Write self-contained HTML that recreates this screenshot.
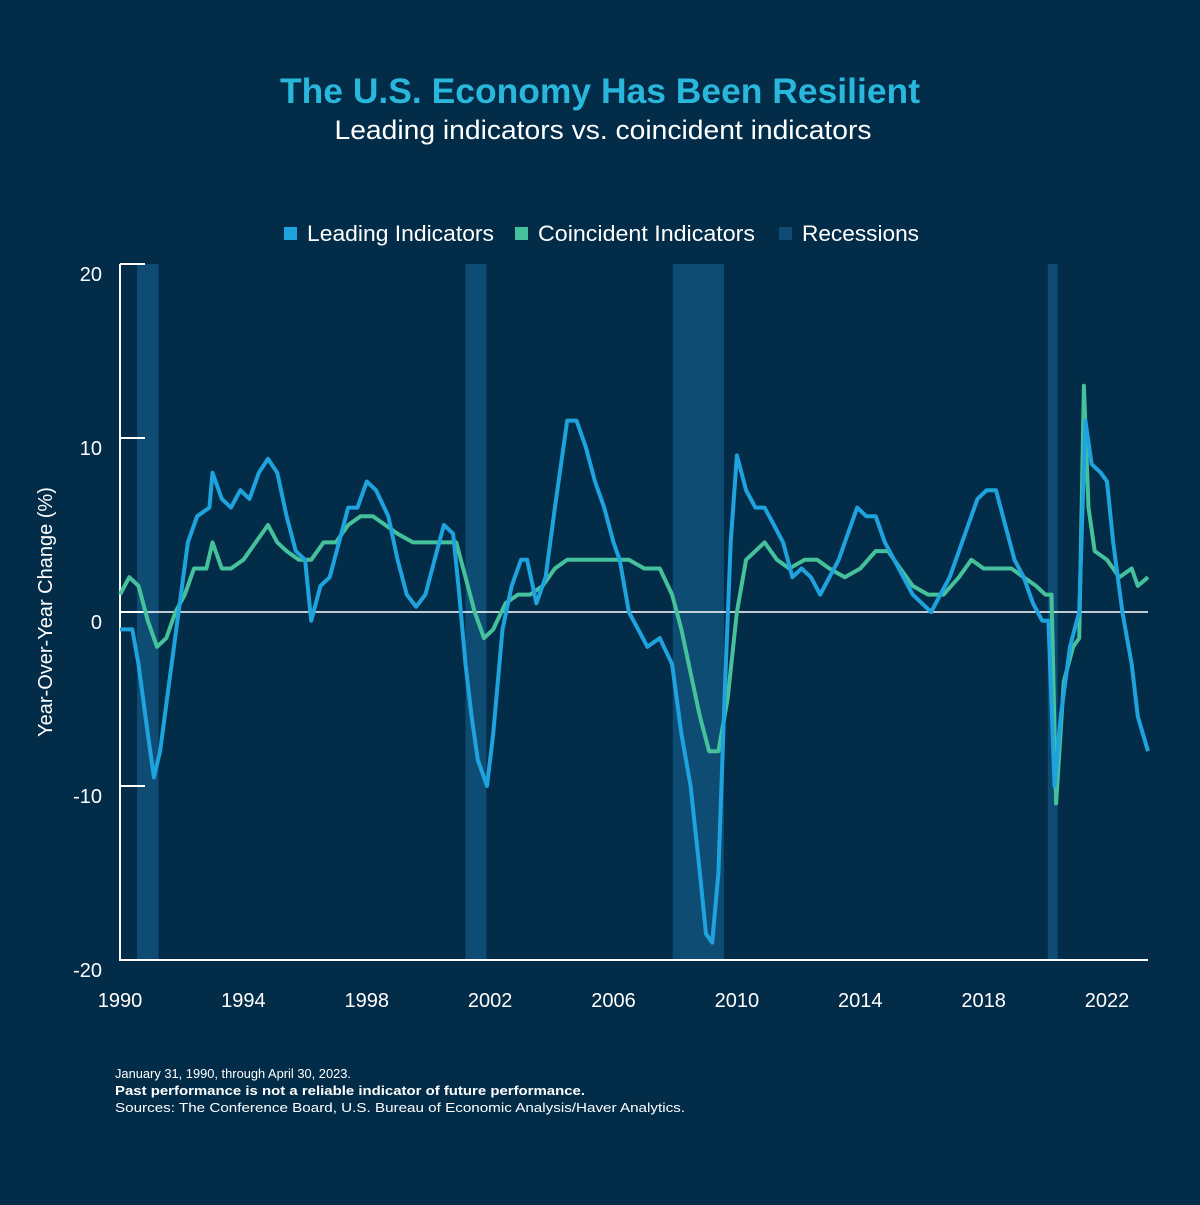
<!DOCTYPE html>
<html><head><meta charset="utf-8"><style>
html,body{margin:0;padding:0;background:#022c48;}
body{width:1200px;height:1200px;overflow:hidden;font-family:"Liberation Sans",Arial,sans-serif;}
</style></head><body>
<svg id="chart" width="1200" height="1200" xmlns="http://www.w3.org/2000/svg" style="font-family:'Liberation Sans',Arial,sans-serif">
<rect width="1200" height="1200" fill="#022c48"/>
<text x="600" y="103" text-anchor="middle" font-size="35" font-weight="bold" fill="#2ab7dc" textLength="640" lengthAdjust="spacingAndGlyphs">The U.S. Economy Has Been Resilient</text>
<text x="603" y="139" text-anchor="middle" font-size="27" fill="#ffffff" textLength="537" lengthAdjust="spacingAndGlyphs">Leading indicators vs. coincident indicators</text>
<g font-size="22" fill="#fff">
<g><rect x="284" y="227" width="13" height="13" fill="#1fa3de"/><text x="307" y="241" textLength="187" lengthAdjust="spacingAndGlyphs">Leading Indicators</text></g>
<g><rect x="515" y="227" width="13" height="13" fill="#45c29b"/><text x="538" y="241" textLength="217" lengthAdjust="spacingAndGlyphs">Coincident Indicators</text></g>
<g><rect x="779" y="227" width="13" height="13" fill="#0e4c74"/><text x="802" y="241" textLength="117" lengthAdjust="spacingAndGlyphs">Recessions</text></g>
</g>
<g id="recessions"></g>
<g id="axes"></g>
<g id="series"></g>
<text transform="translate(52,612) rotate(-90)" text-anchor="middle" font-size="20" fill="#fff">Year-Over-Year Change (%)</text>
<g font-size="13" fill="#fff">
<text x="115" y="1078" textLength="236" lengthAdjust="spacingAndGlyphs">January 31, 1990, through April 30, 2023.</text>
<text x="115" y="1095" font-weight="bold" textLength="470" lengthAdjust="spacingAndGlyphs">Past performance is not a reliable indicator of future performance.</text>
<text x="115" y="1112" textLength="570" lengthAdjust="spacingAndGlyphs">Sources: The Conference Board, U.S. Bureau of Economic Analysis/Haver Analytics.</text>
</g>
</svg>
<script>
const yTicks=[20,10,0,-10,-20];
const xTicks=[1990,1994,1998,2002,2006,2010,2014,2018,2022];
const recStart=[1990.55,2001.2,2007.92,2020.08];
const recEnd=[1991.25,2001.88,2009.58,2020.4];
const leadT=[1990.0,1990.4,1990.6,1990.9,1991.1,1991.3,1991.6,1991.9,1992.2,1992.5,1992.9,1993.0,1993.3,1993.6,1993.9,1994.2,1994.5,1994.8,1995.1,1995.4,1995.7,1996.0,1996.2,1996.5,1996.8,1997.1,1997.4,1997.7,1998.0,1998.3,1998.7,1999.0,1999.3,1999.6,1999.9,2000.2,2000.5,2000.8,2001.0,2001.2,2001.4,2001.6,2001.9,2002.1,2002.4,2002.7,2003.0,2003.2,2003.5,2003.8,2004.1,2004.5,2004.8,2005.1,2005.4,2005.7,2006.0,2006.2,2006.5,2006.8,2007.1,2007.5,2007.9,2008.2,2008.5,2008.8,2009.0,2009.2,2009.4,2009.6,2009.8,2010.0,2010.3,2010.6,2010.9,2011.2,2011.5,2011.8,2012.1,2012.4,2012.7,2013.0,2013.3,2013.6,2013.9,2014.2,2014.5,2014.8,2015.1,2015.4,2015.7,2016.0,2016.3,2016.6,2016.9,2017.2,2017.5,2017.8,2018.1,2018.4,2018.7,2019.0,2019.3,2019.6,2019.9,2020.1,2020.3,2020.5,2020.8,2021.1,2021.3,2021.5,2021.8,2022.0,2022.2,2022.5,2022.8,2023.0,2023.33];
const leadV=[-1,-1,-3,-7,-9.5,-8,-4,0,4,5.5,6,8,6.5,6,7,6.5,8,8.8,8,5.5,3.5,3,-0.5,1.5,2,4,6,6,7.5,7,5.5,3,1,0.3,1,3,5,4.5,1,-3,-6,-8.5,-10,-7,-1,1.5,3,3,0.5,2,6,11,11,9.5,7.5,6,4,3,0,-1,-2,-1.5,-3,-7,-10,-15,-18.5,-19,-15,-5,4,9,7,6,6,5,4,2,2.5,2,1,2,3,4.5,6,5.5,5.5,4,3,2,1,0.5,0,1,2,3.5,5,6.5,7,7,5,3,2,0.5,-0.5,-0.5,-10,-6,-2,0,11,8.5,8,7.5,4,0,-3,-6,-8];
const coinT=[1990.0,1990.3,1990.6,1990.9,1991.2,1991.5,1991.8,1992.1,1992.4,1992.8,1993.0,1993.3,1993.6,1994.0,1994.4,1994.8,1995.1,1995.4,1995.8,1996.2,1996.6,1997.0,1997.4,1997.8,1998.2,1998.6,1999.0,1999.5,2000.0,2000.5,2000.9,2001.2,2001.5,2001.8,2002.1,2002.5,2002.9,2003.3,2003.7,2004.1,2004.5,2005.0,2005.5,2006.0,2006.5,2007.0,2007.5,2007.9,2008.2,2008.5,2008.8,2009.1,2009.4,2009.7,2010.0,2010.3,2010.6,2010.9,2011.3,2011.7,2012.2,2012.6,2013.0,2013.5,2014.0,2014.5,2014.9,2015.3,2015.7,2016.2,2016.7,2017.2,2017.6,2018.0,2018.5,2018.9,2019.3,2019.7,2020.0,2020.2,2020.35,2020.6,2020.9,2021.1,2021.25,2021.4,2021.6,2022.0,2022.4,2022.8,2023.0,2023.33];
const coinV=[1,2,1.5,-0.5,-2,-1.5,0,1,2.5,2.5,4,2.5,2.5,3,4,5,4,3.5,3,3,4,4,5,5.5,5.5,5,4.5,4,4,4,4,2,0,-1.5,-1,0.5,1,1,1.5,2.5,3,3,3,3,3,2.5,2.5,1,-1,-3.5,-6,-8,-8,-5,0,3,3.5,4,3,2.5,3,3,2.5,2,2.5,3.5,3.5,2.5,1.5,1,1,2,3,2.5,2.5,2.5,2,1.5,1,1,-11,-4,-2,-1.5,13,6,3.5,3,2,2.5,1.5,2];
const NS='http://www.w3.org/2000/svg';
const X0=120,X1=1107,Y0=612,YS=17.4;
function xs(t){return X0+(t-1990)*(X1-X0)/32;}
function ys(v){return Y0-v*YS;}
function mk(tag,attrs,parent){const e=document.createElementNS(NS,tag);for(const k in attrs)e.setAttribute(k,attrs[k]);parent.appendChild(e);return e;}
const rg=document.getElementById('recessions');
recStart.forEach((s,i)=>{const r=mk('rect',{x:xs(s),y:ys(20),width:xs(recEnd[i])-xs(s),height:ys(-20)-ys(20),fill:'#0e4c74'},rg);

});
const ag=document.getElementById('axes');
const yl=mk('line',{x1:120,y1:ys(20),x2:120,y2:ys(-20),stroke:'#fff','stroke-width':2},ag);


const xl=mk('line',{x1:119,y1:ys(-20),x2:1148,y2:ys(-20),stroke:'#fff','stroke-width':2},ag);


const zl=mk('line',{x1:120,y1:ys(0),x2:1148,y2:ys(0),stroke:'#fff','stroke-width':1.5},ag);


yTicks.forEach(v=>{const tk=mk('line',{x1:120,y1:ys(v),x2:145,y2:ys(v),stroke:'#fff','stroke-width':2},ag);


const t=mk('text',{x:102,y:ys(v)+17,'text-anchor':'end','font-size':20,fill:'#fff'},ag);t.textContent=v;

});
xTicks.forEach(v=>{const t=mk('text',{x:xs(v),y:1007,'text-anchor':'middle','font-size':20,fill:'#fff'},ag);t.textContent=v;

});
const sg=document.getElementById('series');
function line(T,V,c,name){const d=T.map((t,i)=>(i?'L':'M')+xs(t).toFixed(1)+','+ys(V[i]).toFixed(1)).join('');
const p=mk('path',{d:d,fill:'none',stroke:c,'stroke-width':4,'stroke-linejoin':'round'},sg);

}
line(coinT,coinV,'#45c29b','coincident-indicators-line');
line(leadT,leadV,'#1fa3de','leading-indicators-line');
</script>
</body></html>
